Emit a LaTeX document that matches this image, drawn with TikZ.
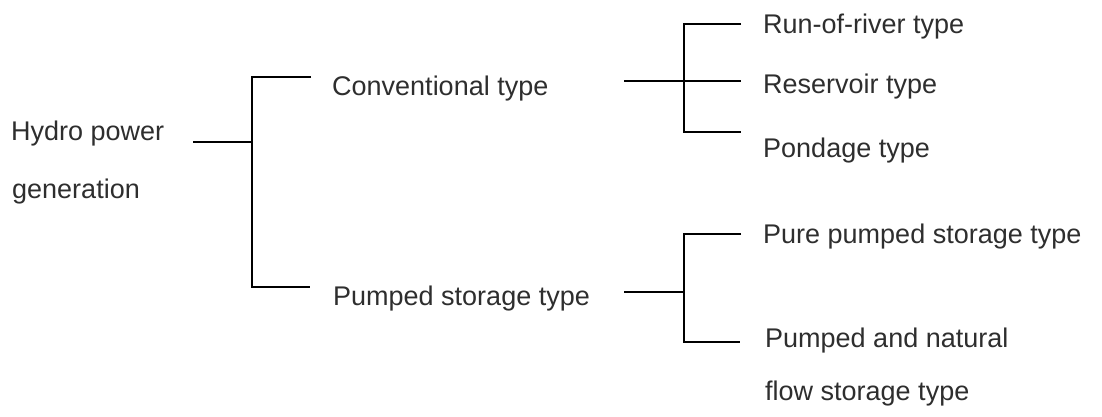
\documentclass[tikz,border=0pt]{standalone}
\usepackage{fontspec}
\setmainfont{Liberation Sans}
\usetikzlibrary{calc}
\begin{document}
\begin{tikzpicture}[x=1pt,y=-1pt,
  lbl/.style={anchor=base west,inner sep=0pt,text=black!82,
              font=\fontsize{27}{32}\selectfont},
  link/.style={line width=1.4pt}]
\useasboundingbox (0,0) rectangle (1102,416);

% labels
\node[lbl] (hydro)  at (11,140)  {Hydro power};
\node[lbl] (hydro2) at (12,198)  {generation};
\node[lbl] (conv)   at (332,95)  {Conventional type};
\node[lbl] (pump)   at (333,305) {Pumped storage type};
\node[lbl] (run)    at (763,33)  {Run-of-river type};
\node[lbl] (res)    at (763,93)  {Reservoir type};
\node[lbl] (pond)   at (763,157) {Pondage type};
\node[lbl] (pure)   at (763,243) {Pure pumped storage type};
\node[lbl] (nat)    at (765,347) {Pumped and natural};
\node[lbl] (flow)   at (765,400) {flow storage type};

% bracket spines
\coordinate (sA) at (252,0);
\coordinate (sB) at (684,0);

% outgoing stubs of the parent labels
\coordinate (hOut) at (193,142);
\coordinate (cOut) at (624,81);
\coordinate (pOut) at (624,292);

% leaf ends of the brackets
\coordinate (c0) at ([shift={(-21pt,18pt)}]conv.base west);
\coordinate (p0) at ([shift={(-23pt,18pt)}]pump.base west);
\coordinate (r0) at ([shift={(-22pt,9pt)}]run.base west);
\coordinate (m0) at ([shift={(-22pt,12pt)}]res.base west);
\coordinate (q0) at ([shift={(-22pt,25pt)}]pond.base west);
\coordinate (u0) at ([shift={(-22pt,9pt)}]pure.base west);
\coordinate (n0) at ([shift={(-25pt,5pt)}]nat.base west);

% first level
\draw[link] (hOut) -- (hOut -| sA);
\draw[link] (c0) -- (c0 -| sA) -- (p0 -| sA) -- (p0);

% conventional branch
\draw[link] (cOut) -- (m0);
\draw[link] (r0) -- (r0 -| sB) -- (q0 -| sB) -- (q0);

% pumped storage branch
\draw[link] (pOut) -- (pOut -| sB);
\draw[link] (u0) -- (u0 -| sB) -- (n0 -| sB) -- (n0);
\end{tikzpicture}
\end{document}
